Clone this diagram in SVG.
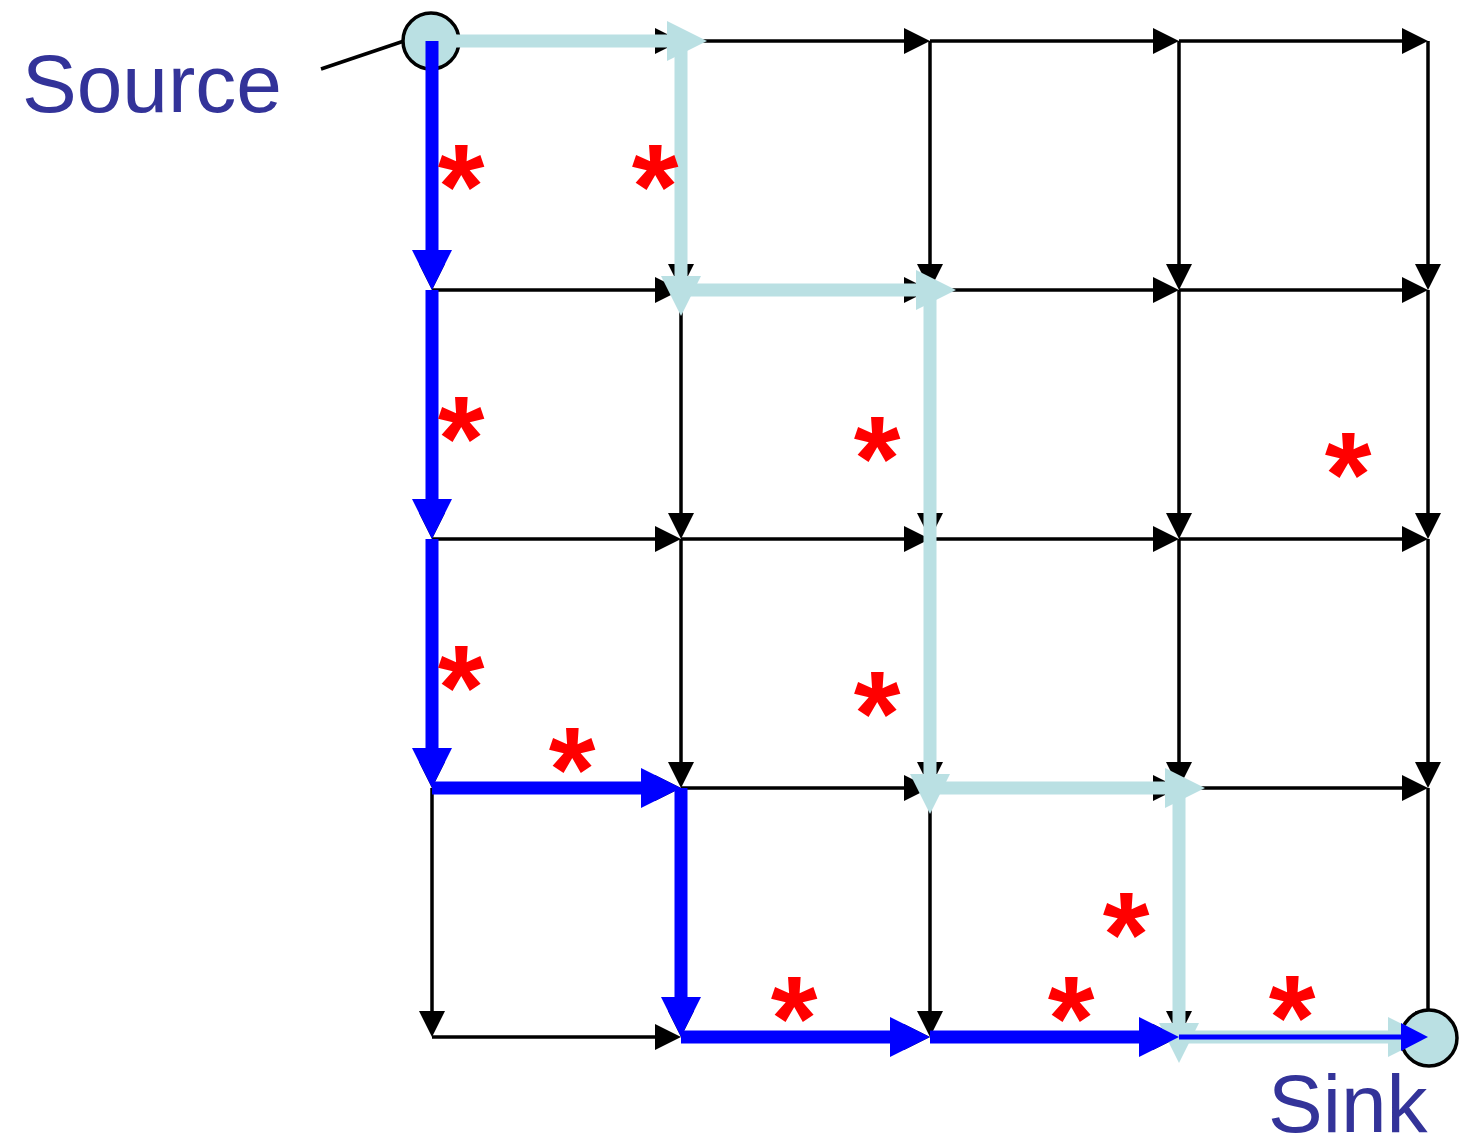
<svg xmlns="http://www.w3.org/2000/svg" width="1474" height="1140" viewBox="0 0 1474 1140">
<style>
.g{stroke:#000;stroke-width:3.5;fill:none;marker-end:url(#ak)}
.lb{stroke:#BAE0E3;stroke-width:13;fill:none;marker-end:url(#al)}
.lb2{stroke:#BAE0E3;stroke-width:13;fill:none;marker-end:url(#al2)}
.b{stroke:#0000FF;stroke-width:13;fill:none;marker-end:url(#ab)}
.star{font-family:"Liberation Sans",Arial,sans-serif;font-weight:bold;font-size:120px;fill:#FF0000;text-anchor:middle}
.lbl{font-family:"Liberation Sans",Arial,sans-serif;font-size:82px;fill:#333399}
.node{fill:#BAE0E3;stroke:#000;stroke-width:3.5}
</style>
<defs>
<marker id="ak" markerUnits="userSpaceOnUse" markerWidth="26" markerHeight="26" refX="2" refY="13" orient="auto"><path d="M0,0 L26,13 L0,26 z" fill="#000"/></marker>
<marker id="al" markerUnits="userSpaceOnUse" markerWidth="40" markerHeight="40" refX="14" refY="20" orient="auto"><path d="M0,0 L40,20 L0,40 z" fill="#BAE0E3"/></marker>
<marker id="al2" markerUnits="userSpaceOnUse" markerWidth="40" markerHeight="40" refX="2" refY="20" orient="auto"><path d="M0,0 L40,20 L0,40 z" fill="#BAE0E3"/></marker>
<marker id="ab" markerUnits="userSpaceOnUse" markerWidth="40" markerHeight="40" refX="2" refY="20" orient="auto"><path d="M0,0 L40,20 L0,40 z" fill="#0000FF"/></marker>
<marker id="abs" markerUnits="userSpaceOnUse" markerWidth="27" markerHeight="28" refX="2" refY="14" orient="auto"><path d="M0,0 L27,14 L0,28 z" fill="#0000FF"/></marker>
</defs>
<g id="connectors">
<g id="grid">
<line class="g" x1="432" y1="41" x2="657" y2="41"/><line class="g" x1="681" y1="41" x2="906" y2="41"/><line class="g" x1="930" y1="41" x2="1155" y2="41"/><line class="g" x1="1179" y1="41" x2="1404" y2="41"/>
<line class="g" x1="432" y1="290" x2="657" y2="290"/><line class="g" x1="681" y1="290" x2="906" y2="290"/><line class="g" x1="930" y1="290" x2="1155" y2="290"/><line class="g" x1="1179" y1="290" x2="1404" y2="290"/>
<line class="g" x1="432" y1="539" x2="657" y2="539"/><line class="g" x1="681" y1="539" x2="906" y2="539"/><line class="g" x1="930" y1="539" x2="1155" y2="539"/><line class="g" x1="1179" y1="539" x2="1404" y2="539"/>
<line class="g" x1="432" y1="788" x2="657" y2="788"/><line class="g" x1="681" y1="788" x2="906" y2="788"/><line class="g" x1="930" y1="788" x2="1155" y2="788"/><line class="g" x1="1179" y1="788" x2="1404" y2="788"/>
<line class="g" x1="432" y1="1037" x2="657" y2="1037"/><line class="g" x1="681" y1="1037" x2="906" y2="1037"/><line class="g" x1="930" y1="1037" x2="1155" y2="1037"/><line class="g" x1="1179" y1="1037" x2="1404" y2="1037"/>
<line class="g" x1="432" y1="41" x2="432" y2="266"/><line class="g" x1="432" y1="290" x2="432" y2="515"/><line class="g" x1="432" y1="539" x2="432" y2="764"/><line class="g" x1="432" y1="788" x2="432" y2="1013"/>
<line class="g" x1="681" y1="41" x2="681" y2="266"/><line class="g" x1="681" y1="290" x2="681" y2="515"/><line class="g" x1="681" y1="539" x2="681" y2="764"/><line class="g" x1="681" y1="788" x2="681" y2="1013"/>
<line class="g" x1="930" y1="41" x2="930" y2="266"/><line class="g" x1="930" y1="290" x2="930" y2="515"/><line class="g" x1="930" y1="539" x2="930" y2="764"/><line class="g" x1="930" y1="788" x2="930" y2="1013"/>
<line class="g" x1="1179" y1="41" x2="1179" y2="266"/><line class="g" x1="1179" y1="290" x2="1179" y2="515"/><line class="g" x1="1179" y1="539" x2="1179" y2="764"/><line class="g" x1="1179" y1="788" x2="1179" y2="1013"/>
<line class="g" x1="1428" y1="41" x2="1428" y2="266"/><line class="g" x1="1428" y1="290" x2="1428" y2="515"/><line class="g" x1="1428" y1="539" x2="1428" y2="764"/><line class="g" x1="1428" y1="788" x2="1428" y2="1013"/>
</g>
<line id="source-pointer" x1="321" y1="69" x2="404" y2="41" stroke="#000" stroke-width="3.5"/>
</g>
<g id="source"><circle class="node" cx="431" cy="41" r="28"/><text class="lbl" x="22" y="112">Source</text></g>
<g id="sink"><circle class="node" cx="1429" cy="1038" r="28"/><text class="lbl" x="1268" y="1132">Sink</text></g>
<g id="paths">
<g id="path-lightblue">
<line class="lb" x1="432" y1="41" x2="681" y2="41"/>
<line class="lb" x1="681" y1="50" x2="681" y2="290"/>
<line class="lb" x1="681" y1="290" x2="930" y2="290"/>
<line class="lb" x1="930" y1="290" x2="930" y2="788"/>
<line class="lb" x1="930" y1="788" x2="1179" y2="788"/>
<line class="lb" x1="1179" y1="788" x2="1179" y2="1037"/>
<line class="lb2" x1="1179" y1="1037" x2="1390" y2="1037"/>
</g>
<g id="path-blue">
<line class="b" x1="432" y1="41" x2="432" y2="252"/>
<line class="b" x1="432" y1="290" x2="432" y2="501"/>
<line class="b" x1="432" y1="539" x2="432" y2="750"/>
<line class="b" x1="432" y1="788" x2="643" y2="788"/>
<line class="b" x1="681" y1="788" x2="681" y2="999"/>
<line class="b" x1="681" y1="1037" x2="892" y2="1037"/>
<line class="b" x1="930" y1="1037" x2="1141" y2="1037"/>
<line x1="1179" y1="1037" x2="1403" y2="1037" stroke="#0000FF" stroke-width="5" marker-end="url(#abs)"/>
</g>
</g>
<g id="stars">
<text class="star" x="461" y="228">*</text>
<text class="star" x="655" y="228">*</text>
<text class="star" x="461" y="480">*</text>
<text class="star" x="877" y="500">*</text>
<text class="star" x="1348" y="516">*</text>
<text class="star" x="461" y="729">*</text>
<text class="star" x="877" y="755">*</text>
<text class="star" x="572" y="811">*</text>
<text class="star" x="1126" y="976">*</text>
<text class="star" x="794" y="1060">*</text>
<text class="star" x="1071" y="1060">*</text>
<text class="star" x="1292" y="1059">*</text>
</g>
</svg>
